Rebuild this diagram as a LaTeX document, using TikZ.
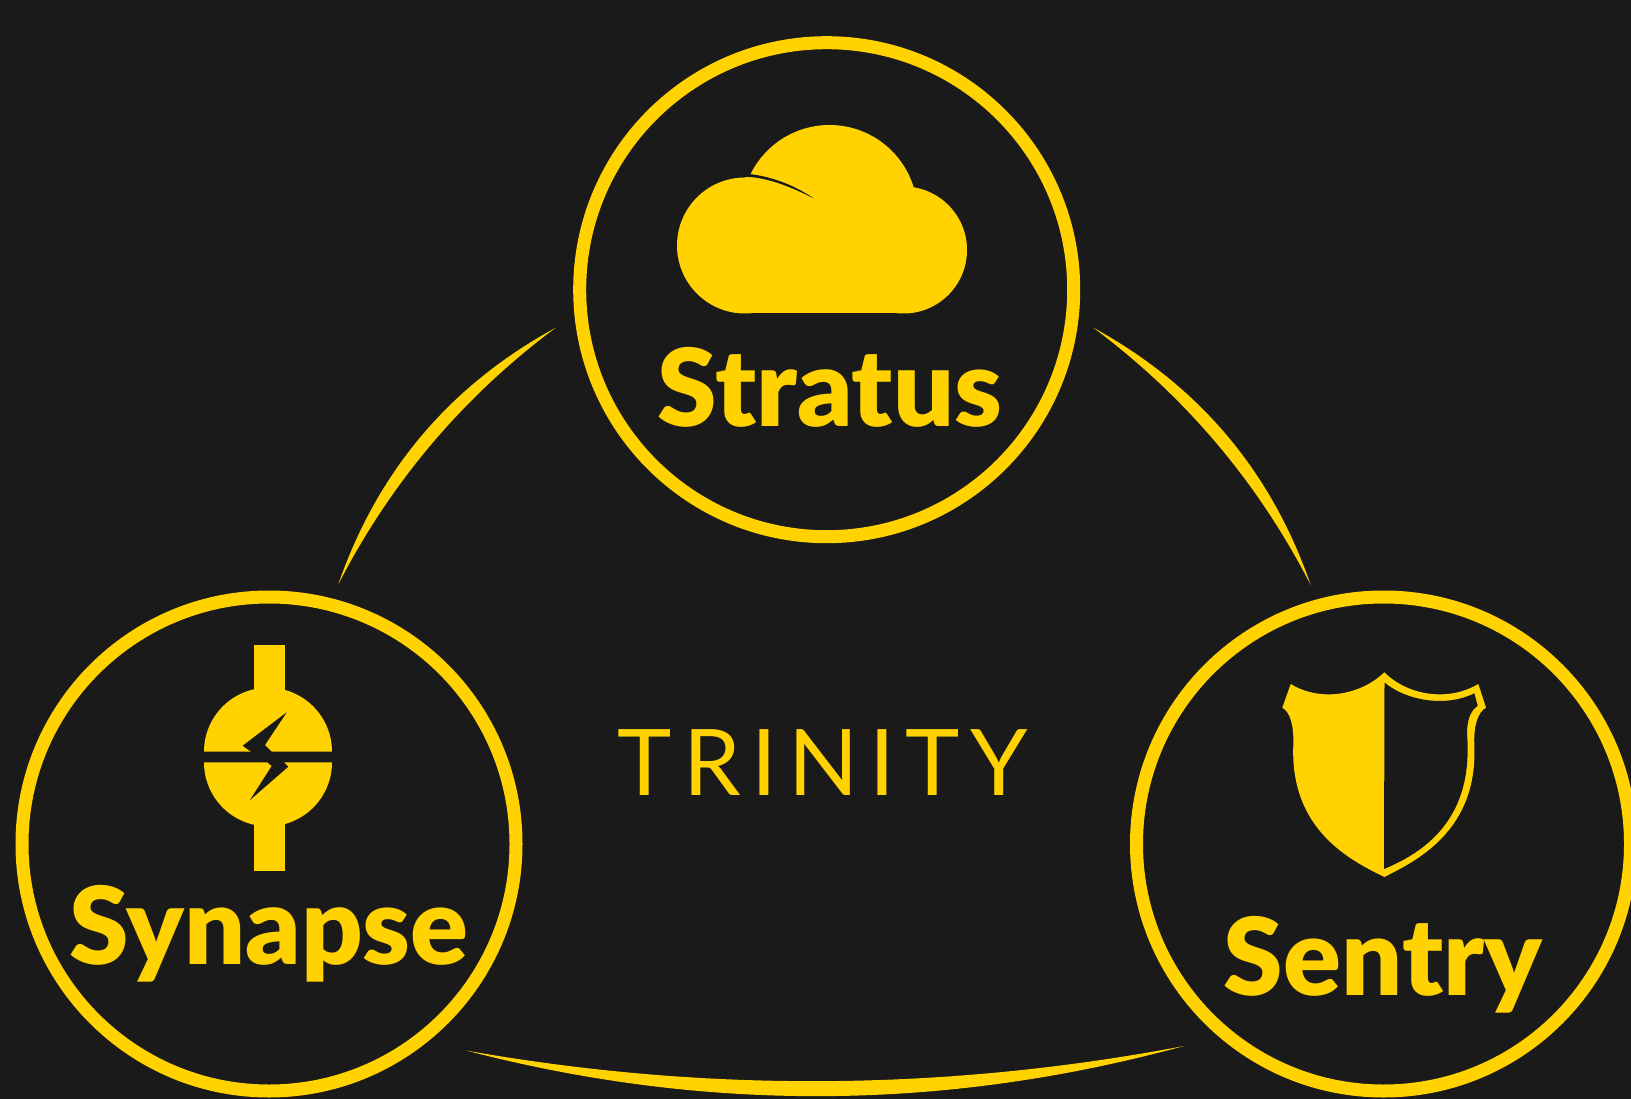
\documentclass[tikz,border=0pt]{standalone}
\usepackage{fontspec}
\usetikzlibrary{calc}
\setmainfont{Lato}
\newfontfamily\labelfont{Lato Black}
\newfontfamily\titlefont[LetterSpace=11.7]{Lato}
\definecolor{bgdark}{HTML}{1A1A1A}
\definecolor{gold}{HTML}{FFD200}
\tikzset{
  ring/.style={circle,draw=gold,line width=13pt,minimum size=494pt,inner sep=0pt,outer sep=0pt,fill=none},
  namelabel/.style={text=gold,font=\labelfont\fontsize{107.5pt}{107.5pt}\selectfont,inner sep=0pt,anchor=base},
  titlelabel/.style={text=gold,font=\titlefont\fontsize{92pt}{92pt}\selectfont,inner sep=0pt,anchor=base},
  goldfill/.style={fill=gold,draw=none},
  darkfill/.style={fill=bgdark,draw=none}
}
\newcommand{\crescent}[4]{%
  \fill[gold] (#1) .. controls ($(#1)!2/3!(#3)$) and ($(#2)!2/3!(#3)$) .. (#2)
    .. controls ($(#2)!2/3!(#4)$) and ($(#1)!2/3!(#4)$) .. (#1) -- cycle;}
\begin{document}
\begin{tikzpicture}[x=1pt,y=-1pt]
\useasboundingbox (0,0) rectangle (1631,1099);
\fill[bgdark] (0,0) rectangle (1631,1099);
% rings
\node[ring] (stratus) at (826.7,289.7) {};
\node[ring] (synapse) at (269,844) {};
\node[ring] (sentry) at (1383.5,844) {};
% crescents
\coordinate (a1) at (338.3,584.3); \coordinate (a2) at (555.7,327.7);
\coordinate (a3) at (397.4,414); \coordinate (a4) at (417.2,430.8);
\crescent{a1}{a2}{a3}{a4}
\coordinate (b1) at (1310.7,585); \coordinate (b2) at (1093.3,327.7);
\coordinate (b3) at (1251.7,414.4); \coordinate (b4) at (1231.8,431.1);
\crescent{b1}{b2}{b3}{b4}
\coordinate (c1) at (466,1050.5); \coordinate (c2) at (1184,1046);
\coordinate (c3) at (825,1144); \coordinate (c4) at (825,1114);
\crescent{c1}{c2}{c3}{c4}
% cloud
\fill[goldfill] (745,245.5) circle (68);
\fill[goldfill] (903.5,250) circle (63.5);
\fill[goldfill] (829.5,213) circle (88);
\fill[goldfill] (745,177.5) rectangle (903.5,313.5);
\fill[darkfill] (749.3,174) .. controls (775,177) and (797,187) .. (814,198.5) .. controls (795,189) and (770,177.5) .. (745,176.7) -- cycle;
% synapse icon
\fill[goldfill] (204,751.7) arc[start angle=180,end angle=360,radius=64] -- cycle;
\fill[goldfill] (204,762.3) arc[start angle=180,end angle=0,radius=64] -- cycle;
\fill[goldfill] (254,645) rectangle (285,700);
\fill[goldfill] (254,815) rectangle (285,870.7);
\fill[darkfill] (286.7,712.3) -- (242.7,745.7) -- (251,751.7) -- (250,755) -- (272,755) -- (271.7,751.7) -- (265,745) -- cycle;
\fill[darkfill] (267.3,760) -- (267.3,762.3) -- (271.7,766) -- (250,800) -- (288.3,766.7) -- (284,762.3) -- (284,760) -- cycle;
% sentry icon
\fill[goldfill] (1384.3,672.3) .. controls (1362,694) and (1322,703) .. (1290.7,684)
  -- (1282.3,707.7) .. controls (1290,712) and (1294,725) .. (1293.3,745)
  .. controls (1290,830) and (1350,860) .. (1384.3,877)
  .. controls (1418,860) and (1478,830) .. (1474.3,745)
  .. controls (1473.5,725) and (1478,712) .. (1486,707.7)
  -- (1478.3,684) .. controls (1446,703) and (1406,694) .. (1384.3,672.3) -- cycle;
\fill[darkfill] (1384.5,682.5) .. controls (1405,700) and (1445,708) .. (1474.3,693.3)
  -- (1477.7,705.7) .. controls (1470,711) and (1466,722) .. (1467.3,738)
  .. controls (1472,815) and (1430,850) .. (1384,869) -- cycle;
% labels
\node[namelabel] (stratuslabel) at (830,426) {Stratus};
\node[namelabel] (synapselabel) at (269,964) {Synapse};
\node[namelabel] (sentrylabel) at (1383,995.5) {Sentry};
\node[titlelabel] (trinity) at (823,795) {TRINITY};
\end{tikzpicture}
\end{document}
